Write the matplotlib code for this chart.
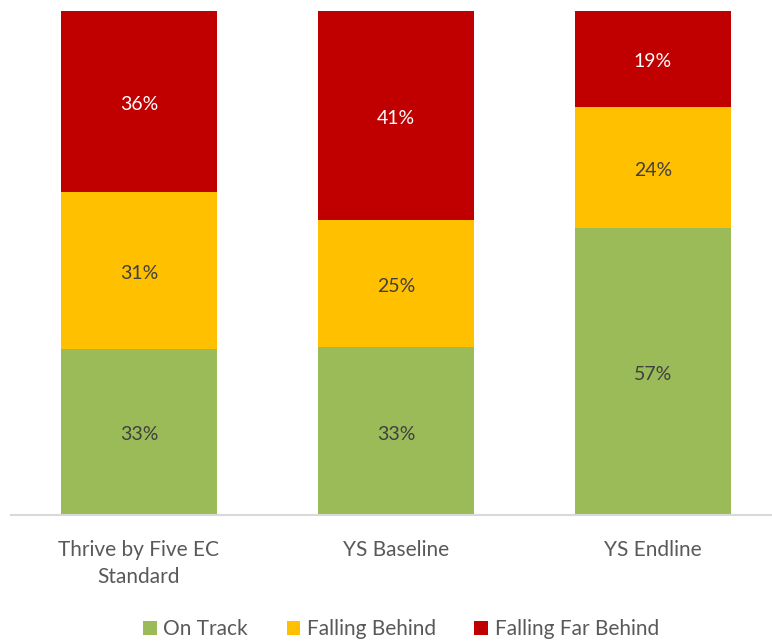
import matplotlib.pyplot as plt
import numpy as np
from matplotlib.patches import Patch

plt.rcParams["font.family"] = ["Lato", "DejaVu Sans"]

categories = ["Thrive by Five EC\nStandard", "YS Baseline", "YS Endline"]
series_names = ["On Track", "Falling Behind", "Falling Far Behind"]
on_track = [33, 33, 57]
falling_behind = [31, 25, 24]
falling_far_behind = [36, 41, 19]

colors = ["#9bbb59", "#ffc000", "#c00000"]
label_colors = ["#404040", "#404040", "#ffffff"]

fig = plt.figure(figsize=(7.72, 6.42), dpi=100)
W, H = 772, 642
ax = fig.add_axes([10.5 / W, (H - 515) / H, 771 / W, 504 / H])

series = np.array([on_track, falling_behind, falling_far_behind], dtype=float)
# 100% stacked: each column is scaled to its own total
shares = series / series.sum(axis=0) * 100

x = np.arange(len(categories))
bottom = np.zeros(len(categories))
for vals, shown, color, tcolor in zip(shares, series, colors, label_colors):
    ax.bar(x, vals, bottom=bottom, width=0.607, color=color, zorder=2)
    for xi, b, v, s in zip(x, bottom, vals, shown):
        ax.text(xi, b + v / 2 - 0.3, f"{s:.0f}%", ha="center", va="center_baseline",
                fontsize=14, color=tcolor)
    bottom += vals

ax.set_xlim(-0.5, len(categories) - 0.5)
ax.set_ylim(0, 100)
ax.set_yticks([])
ax.set_xticks(x, categories)
ax.tick_params(axis="x", length=0, pad=18, labelsize=15, labelcolor="#595959")
for lbl in ax.get_xticklabels():
    lbl.set_linespacing(1.45)
for side in ("top", "left", "right"):
    ax.spines[side].set_visible(False)
ax.spines["bottom"].set_color("#d9d9d9")
ax.spines["bottom"].set_linewidth(1.5)

handles = [Patch(facecolor=c, edgecolor="none") for c in colors]
fig.legend(handles, series_names, loc="center", bbox_to_anchor=(401 / W, 1 - 629 / H),
           ncol=3, frameon=False, fontsize=15, labelcolor="#595959",
           handlelength=0.67, handleheight=0.67, handletextpad=0.3, columnspacing=1.85,
           borderpad=0, borderaxespad=0)

fig.savefig("out.png", dpi=100)
